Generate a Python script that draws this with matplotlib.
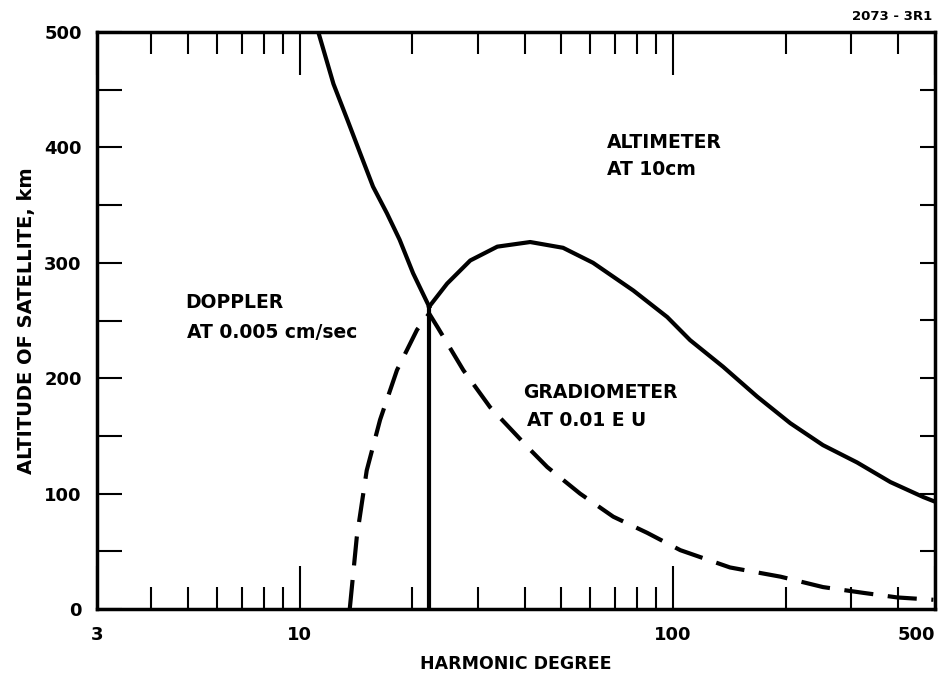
import matplotlib
matplotlib.use("Agg")
import matplotlib.pyplot as plt
from matplotlib.ticker import FixedLocator, NullFormatter, FixedFormatter

# ---- data ----
doppler_x = [11.2, 12.3, 13.4, 14.5, 15.7, 17.1, 18.5, 20.1, 22.2]
doppler_y = [500, 455, 424, 395, 366, 343, 320, 291, 262]

vertical_x = [22.2, 22.2]
vertical_y = [0, 262]

altimeter_x = [22.2, 24.8, 28.6, 33.8, 41.4, 50.7, 61.0, 78.2, 96.4, 111, 136, 168, 206, 252, 311, 382, 468, 503]
altimeter_y = [262, 282, 302, 314, 318, 313, 300, 276, 253, 233, 210, 184, 161, 142, 127, 110, 97, 93]

gradiometer_x = [13.6, 14.2, 15.1, 16.4, 18.2, 20.6, 22.2, 23.4, 27.4, 32.3, 41.4, 46.0, 56.3, 69.1, 85.2, 104.5, 142, 194, 252, 323, 399, 498]
gradiometer_y = [0, 62, 120, 164, 207, 242, 256, 244, 207, 175, 138, 123, 100, 80, 66, 51, 36, 28, 19, 14, 10, 8]

x_limits = [2.86, 503]
x_major = [2.86, 10, 100, 503]
x_major_labels = ["3", "10", "100", "500"]
x_minor = [4, 5, 6, 7, 8, 9, 20, 30, 40, 50, 60, 70, 80, 90, 200, 300, 400]
y_labels = [0, 100, 200, 300, 400, 500]
y_minor = [50, 150, 250, 350, 450]

fig = plt.figure(figsize=(9.48, 6.74), dpi=100)
ax = fig.add_axes([97/948, 1-609/674, (935-97)/948, (609-32)/674])

ax.set_xscale("log")
ax.set_xlim(*x_limits)
ax.set_ylim(0, 500)

lw = 3.0
ax.plot(doppler_x, doppler_y, color="black", lw=lw, solid_joinstyle="round")
ax.plot(vertical_x, vertical_y, color="black", lw=lw)
ax.plot(altimeter_x, altimeter_y, color="black", lw=lw, solid_joinstyle="round")
ax.plot(gradiometer_x, gradiometer_y, color="black", lw=lw, dashes=(7, 3.5))

for s in ax.spines.values():
    s.set_linewidth(2.5)

ax.xaxis.set_major_locator(FixedLocator(x_major))
ax.xaxis.set_major_formatter(FixedFormatter(x_major_labels))
ax.xaxis.set_minor_locator(FixedLocator(x_minor))
ax.xaxis.set_minor_formatter(NullFormatter())
ax.tick_params(axis="x", which="major", direction="in", length=31, width=1.5,
               top=True, bottom=True, pad=12, labelsize=13)
ax.tick_params(axis="x", which="minor", direction="in", length=16, width=1.5,
               top=True, bottom=True)

ax.yaxis.set_major_locator(FixedLocator(y_labels))
ax.yaxis.set_minor_locator(FixedLocator(y_minor))
ax.yaxis.set_minor_formatter(NullFormatter())
ax.tick_params(axis="y", which="both", direction="in", length=18, width=1.5,
               left=True, right=False, pad=11, labelsize=13)

ax2 = ax.twinx()
ax2.set_ylim(0, 500)
ax2.yaxis.set_major_locator(FixedLocator(y_labels[1:-1] + y_minor))
ax2.tick_params(axis="y", direction="in", length=11, width=1.5, labelright=False, right=True)
for s in ax2.spines.values():
    s.set_visible(False)

for lab in ax.get_xticklabels() + ax.get_yticklabels():
    lab.set_fontweight("bold")
xl = ax.get_xticklabels()
xl[-1].set_horizontalalignment("right")

ax.set_xlabel("HARMONIC DEGREE", fontsize=12.5, fontweight="bold", labelpad=8)
ax.set_ylabel("ALTITUDE OF SATELLITE, km", fontsize=14, fontweight="bold", labelpad=6)

tk = dict(fontsize=13.5, fontweight="bold", transform=fig.transFigure, ha="left", va="center")
fig.text(607/948, 1-143/674, "ALTIMETER", **tk)
fig.text(607/948, 1-170/674, "AT 10cm", **tk)
fig.text(185/948, 1-303/674, "DOPPLER", **tk)
fig.text(187/948, 1-333/674, "AT 0.005 cm/sec", **tk)
fig.text(523/948, 1-392/674, "GRADIOMETER", **tk)
fig.text(527/948, 1-420/674, "AT 0.01 E U", **tk)
fig.text(932/948, 1-17/674, "2073 - 3R1", fontsize=9.5, fontweight="bold",
         ha="right", va="center", transform=fig.transFigure)

fig.savefig("out.png", dpi=100)
